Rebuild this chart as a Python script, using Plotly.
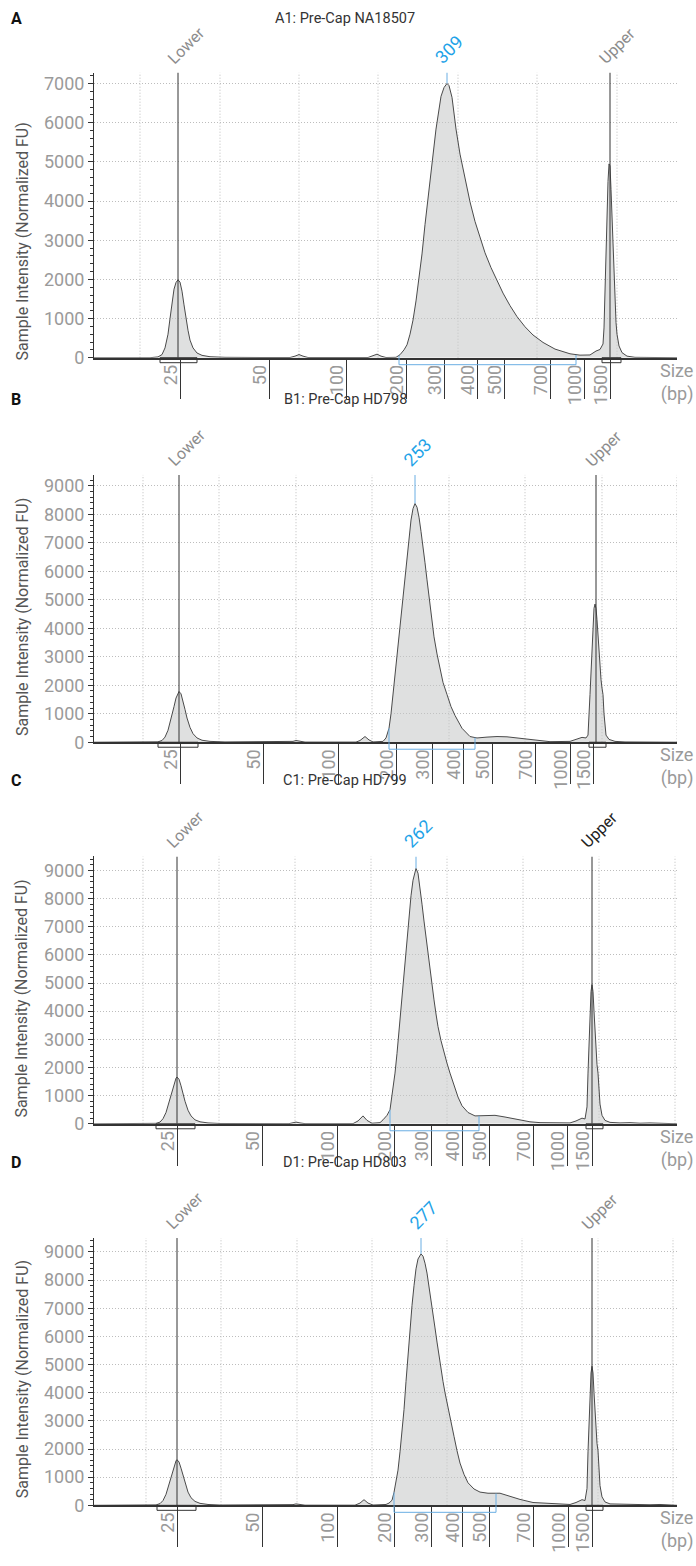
import plotly.graph_objects as go

W, H = 696, 1566

# ---------------- data ----------------
titles = ["A1: Pre-Cap NA18507", "B1: Pre-Cap HD798", "C1: Pre-Cap HD799", "D1: Pre-Cap HD803"]
panel_letters = ["A", "B", "C", "D"]
ladder_bp = ["25", "50", "100", "200", "300", "400", "500", "700", "1000", "1500"]

# migration position (run units) of each ladder size, per sample
A_ladder = [180, 269, 346, 406, 444, 477, 504, 550, 584, 610]
B_ladder = [180, 263, 338, 396, 432, 463, 492, 535, 570, 593]
C_ladder = [177, 262, 337, 394, 431, 462, 489, 533, 567, 592]
D_ladder = [177, 262, 337, 394, 431, 462, 489, 533, 568, 592]

# time grid (run units)
A_grid = [140, 220, 299, 378, 458, 537, 617]
B_grid = [143, 219, 296, 372, 449, 525, 602, 677]
C_grid = [143, 219, 295, 371, 447, 523, 599, 675]
D_grid = [146, 221, 297, 372, 447, 522, 598, 673]

# electropherogram traces (run units, normalized FU)
A_x = [94, 150, 158, 162, 165, 168, 170, 172, 174, 176, 178, 180, 182, 184, 186, 188, 190, 193, 197, 202, 210, 225, 260,
       290, 295, 299, 303, 308, 368, 373, 377, 381, 386, 396,
       400, 404, 407, 410, 413, 416, 419, 422, 425, 429, 432, 436, 441, 444, 447, 449, 452, 456, 460, 465, 470, 475,
       480, 485, 491, 497, 503, 510, 517, 525, 533, 543, 555, 570, 580, 590, 596, 600,
       603, 604, 605, 606, 607, 608, 609, 610, 611, 612, 613, 614, 615, 616, 617, 619, 622, 627, 635, 677]
A_y = [0, 0, 20, 80, 250, 600, 1000, 1450, 1750, 1920, 1990, 1930, 1700, 1350, 1000, 700, 450, 250, 120, 60, 25, 10, 5,
       5, 40, 80, 40, 5, 5, 50, 90, 40, 5, 10,
       76, 200, 330, 600, 960, 1450, 2000, 2650, 3400, 4300, 5000, 5840, 6675, 6900, 7005, 6950, 6650, 5840, 5200, 4550, 3980, 3480,
       3050, 2680, 2300, 1960, 1650, 1330, 1050, 790, 580, 390, 220, 100, 65, 70, 170, 210,
       350, 760, 1700, 2800, 3800, 4500, 4950, 4900, 4300, 3500, 2800, 2200, 1400, 900, 600, 300, 130, 40, 10, 0]

B_x = [94, 150, 158, 162, 165, 168, 171, 174, 176, 178, 179, 181, 183, 185, 187, 190, 193, 197, 202, 210, 225,
       288, 293, 296, 300, 305, 356, 360, 365, 369, 373,
       380, 383, 386, 389, 391, 393, 395, 397, 399, 401, 403, 405, 407, 409, 411, 413, 415, 417, 419, 421, 423, 425, 427, 429,
       431, 434, 437, 440, 443, 447, 451, 455, 462, 470, 477, 487, 497, 507, 517, 527, 537, 550,
       570, 576, 582, 586, 588, 590, 591, 592, 593, 594, 595, 596, 597, 598, 599, 600, 601, 602, 603, 604, 605, 606, 609, 615, 625, 677]
B_y = [0, 0, 15, 60, 180, 420, 800, 1250, 1550, 1740, 1780, 1700, 1450, 1150, 850, 520, 300, 150, 70, 30, 10,
       5, 30, 60, 30, 5, 5, 60, 200, 80, 10,
       15, 30, 150, 490, 1000, 1675, 2300, 3000, 3700, 4400, 5100, 5800, 6500, 7200, 7800, 8200, 8380, 8250, 7900, 7400, 6900, 6300, 5700, 5100,
       4500, 3700, 3100, 2550, 2100, 1675, 1250, 940, 490, 200, 150, 180, 200, 190, 150, 110, 50, 20,
       30, 90, 170, 150, 250, 1675, 2600, 3500, 4200, 4700, 4850, 4700, 4300, 3700, 3100, 2600, 2200, 1900, 1675, 1000, 500, 250, 100, 30, 10, 0]

C_x = [94, 148, 156, 160, 163, 166, 169, 172, 174, 176, 177, 179, 181, 183, 185, 188, 191, 195, 200, 208, 220,
       289, 293, 296, 300, 305, 353, 358, 363, 367, 372, 376,
       380, 383, 387, 390, 393, 395, 397, 399, 401, 403, 405, 407, 409, 411, 413, 415, 416, 418, 420, 422, 424, 426, 428, 430,
       432, 434, 436, 438, 441, 444, 447, 450, 454, 458, 462, 468, 475, 485, 495, 505, 513, 521, 530, 540, 555,
       570, 576, 582, 585, 587, 588, 589, 590, 591, 592, 593, 594, 595, 596, 597, 598, 599, 600, 602, 605, 610, 620, 630, 640, 650, 660, 677]
C_y = [0, 0, 15, 60, 180, 400, 760, 1150, 1430, 1620, 1660, 1580, 1350, 1070, 800, 480, 280, 140, 70, 30, 10,
       5, 30, 60, 30, 5, 5, 100, 280, 120, 20, 25,
       40, 140, 300, 500, 1200, 1800, 2500, 3300, 4100, 4900, 5800, 6600, 7400, 8100, 8650, 9000, 9070, 8900, 8400, 7800, 7200, 6600, 6000, 5400,
       4900, 4400, 3900, 3450, 2950, 2500, 2150, 1800, 1350, 950, 640, 400, 280, 300, 300, 240, 180, 120, 70, 40, 25,
       30, 100, 200, 170, 600, 1800, 3000, 4000, 4700, 4940, 4700, 4000, 3200, 2600, 2100, 1800, 1200, 700, 300, 120, 50, 30, 40, 20, 30, 10, 0]

D_x = [94, 148, 156, 160, 163, 166, 169, 172, 174, 176, 177, 179, 181, 183, 185, 188, 191, 195, 200, 208, 220,
       290, 293, 296, 300, 305, 355, 360, 364, 368, 373,
       383, 386, 389, 392, 394, 396, 398, 400, 402, 404, 406, 408, 410, 412, 414, 416, 418, 421, 423, 425, 427, 429, 431, 433, 435,
       437, 439, 441, 443, 445, 448, 451, 454, 457, 460, 464, 468, 474, 480, 488, 495, 497, 500, 510, 520, 533, 547, 560,
       570, 576, 582, 585, 587, 588, 589, 590, 591, 592, 593, 594, 595, 596, 597, 598, 599, 600, 602, 605, 610, 620, 630, 640, 650, 660, 677]
D_y = [0, 0, 15, 60, 170, 390, 740, 1120, 1400, 1580, 1620, 1540, 1320, 1050, 780, 470, 270, 140, 70, 30, 10,
       5, 25, 50, 25, 5, 5, 80, 200, 80, 10,
       15, 30, 80, 180, 460, 800, 1250, 1900, 2600, 3400, 4400, 5400, 6300, 7100, 7800, 8400, 8750, 8930, 8850, 8600, 8250, 7800, 7300, 6800, 6300,
       5800, 5300, 4850, 4400, 4000, 3450, 2950, 2450, 1940, 1500, 1100, 800, 580, 470, 430, 420, 440, 430, 320, 210, 100, 70, 45,
       30, 100, 200, 170, 600, 1900, 3000, 4000, 4700, 4940, 4700, 4000, 3200, 2600, 2200, 1940, 1200, 700, 300, 120, 50, 40, 30, 40, 20, 30, 0]

lower_pos = [178, 179, 177, 177]
upper_pos = [610, 596, 592, 592]
peak_pos = [447, 415, 416, 421]
peak_val = [7005, 8380, 9070, 8930]
peak_label = ["309", "253", "262", "277"]
lower_box = [(160, 197), (158, 198), (156, 195), (157, 196)]
upper_box = [(602, 621), (589, 606), (586, 603), (586, 603)]
region_x = [(399, 576), (389, 475), (390, 479), (394, 496)]
region_y = [(50, 70), (490, 160), (500, 280), (460, 420)]
y_max = [7284, 9383, 9494, 9494]
upper_color = ["#8c8c8c", "#8c8c8c", "#222222", "#8c8c8c"]

traces_x = [A_x, B_x, C_x, D_x]
traces_y = [A_y, B_y, C_y, D_y]
ladders = [A_ladder, B_ladder, C_ladder, D_ladder]
grids = [A_grid, B_grid, C_grid, D_grid]

# ---------------- layout constants (pixels) ----------------
plot_top = [73, 478, 862, 1246]
plot_bottom = [360, 747, 1131, 1515]
title_y = [19, 402, 786, 1170]
ytitle_y = [243, 621, 1005, 1388]
x_left, x_right = 94, 677

FONT = "Roboto"
GREY = "#9a9a9a"
DARK = "#333333"
BLUE_TXT = "#1fa3e8"
BLUE_LN = "#6aaee3"
GRID = "#bdbdbd"
GRID_DASH = "1px,2px"

fig = go.Figure()
shapes = []
annotations = []
layout = {}

for i in range(4):
    n = i + 1
    xa = f"x{n}" if n > 1 else "x"
    ya = f"y{n}" if n > 1 else "y"
    xkey = f"xaxis{n}" if n > 1 else "xaxis"
    ykey = f"yaxis{n}" if n > 1 else "yaxis"

    fig.add_trace(go.Scatter(
        x=traces_x[i], y=traces_y[i], mode="lines",
        line=dict(color="#4a4a4a", width=1),
        fill="tozeroy", fillcolor="rgba(196,198,198,0.55)",
        xaxis=xa, yaxis=ya, hoverinfo="skip", showlegend=False))

    layout[xkey] = dict(
        domain=[x_left / W, x_right / W], range=[x_left, x_right], anchor=ya,
        showline=True, linecolor=DARK, linewidth=1.5,
        ticks="outside", ticklen=40, tickwidth=1.2, tickcolor=DARK,
        tickmode="array", tickvals=ladders[i], showticklabels=False,
        showgrid=False, zeroline=False, fixedrange=True)
    layout[ykey] = dict(
        domain=[(H - plot_bottom[i]) / H, (H - plot_top[i]) / H], range=[0, y_max[i]], anchor=xa,
        showline=True, linecolor=DARK, linewidth=1,
        ticks="outside", ticklen=5, tickwidth=1, tickcolor=DARK,
        tick0=0, dtick=1000, tickfont=dict(family=FONT, size=18, color=GREY),
        showgrid=True, gridcolor=GRID, griddash=GRID_DASH, gridwidth=1,
        minor=dict(dtick=200, ticks="outside", ticklen=3, tickcolor=DARK, showgrid=False),
        zeroline=False, fixedrange=True)

    ydom = f"{ya} domain"
    # vertical time grid
    for g in grids[i]:
        shapes.append(dict(type="line", xref=xa, yref=ydom, x0=g, x1=g, y0=0, y1=1,
                           line=dict(color=GRID, width=1, dash=GRID_DASH), layer="below"))
    # lower / upper marker lines
    for p in (lower_pos[i], upper_pos[i]):
        shapes.append(dict(type="line", xref=xa, yref=ya, x0=p, x1=p, y0=0, y1=y_max[i],
                           line=dict(color=DARK, width=1)))
    # peak line
    shapes.append(dict(type="line", xref=xa, yref=ya, x0=peak_pos[i], x1=peak_pos[i],
                       y0=peak_val[i], y1=y_max[i], line=dict(color=BLUE_LN, width=1)))
    # marker boxes below axis
    for (b0, b1) in (lower_box[i], upper_box[i]):
        shapes.append(dict(type="rect", xref=xa, yref=ydom, x0=b0, x1=b1,
                           ysizemode="pixel", yanchor=0, y0=-5, y1=0,
                           line=dict(color=DARK, width=1), fillcolor="rgba(0,0,0,0)"))
    # region bracket
    r0, r1 = region_x[i]
    v0, v1 = region_y[i]
    for (rx, rv) in ((r0, v0), (r1, v1)):
        shapes.append(dict(type="line", xref=xa, yref=ya, x0=rx, x1=rx, y0=0, y1=rv,
                           line=dict(color=BLUE_LN, width=1)))
        shapes.append(dict(type="line", xref=xa, yref=ydom, x0=rx, x1=rx,
                           ysizemode="pixel", yanchor=0, y0=-7, y1=0,
                           line=dict(color=BLUE_LN, width=1)))
    shapes.append(dict(type="line", xref=xa, yref=ydom, x0=r0, x1=r1,
                       ysizemode="pixel", yanchor=0, y0=-7, y1=-7,
                       line=dict(color=BLUE_LN, width=1)))

    # ladder labels
    for pos, lab in zip(ladders[i], ladder_bp):
        annotations.append(dict(text=lab, x=pos, xref=xa, y=0, yref=ydom,
                                xanchor="right", yanchor="top", xshift=3, yshift=-6,
                                textangle=-90, showarrow=False,
                                font=dict(family=FONT, size=18, color=GREY)))
    # marker labels
    for txt, pos, col, sz, xs in (("Lower", lower_pos[i], "#8c8c8c", 16, -17),
                                  ("Upper", upper_pos[i], upper_color[i], 16, -17),
                                  (peak_label[i], peak_pos[i], BLUE_TXT, 18, -19)):
        annotations.append(dict(text=txt, x=pos, xref=xa, y=1, yref=ydom,
                                xanchor="left", yanchor="bottom", xshift=xs, yshift=2,
                                textangle=-45, showarrow=False,
                                font=dict(family=FONT, size=sz, color=col)))
    # titles
    annotations.append(dict(text=titles[i], x=345 / W, xref="paper", y=1 - title_y[i] / H, yref="paper",
                            xanchor="center", yanchor="middle", showarrow=False,
                            font=dict(family=FONT, size=14.5, color="#333333")))
    annotations.append(dict(text=f"<b>{panel_letters[i]}</b>", x=16 / W, xref="paper", y=1 - title_y[i] / H,
                            yref="paper", xanchor="center", yanchor="middle", showarrow=False,
                            font=dict(family=FONT, size=16, color="#111111")))
    annotations.append(dict(text="Sample Intensity (Normalized FU)", x=22 / W, xref="paper",
                            y=1 - ytitle_y[i] / H, yref="paper", xanchor="center", yanchor="middle",
                            textangle=-90, showarrow=False,
                            font=dict(family=FONT, size=16, color="#555555")))
    annotations.append(dict(text="Size<br>(bp)", x=695 / W, xref="paper", y=0, yref=ydom,
                            xanchor="right", yanchor="top", yshift=0, align="right", showarrow=False,
                            font=dict(family=FONT, size=18, color=GREY)))

fig.update_layout(
    width=W, height=H, margin=dict(l=0, r=0, t=0, b=0),
    paper_bgcolor="white", plot_bgcolor="white",
    shapes=shapes, annotations=annotations, showlegend=False,
    font=dict(family=FONT), **layout)

fig.write_html("out.html", config={"displayModeBar": False},
               post_script="document.body.style.margin='0px';document.body.style.overflow='hidden';")
